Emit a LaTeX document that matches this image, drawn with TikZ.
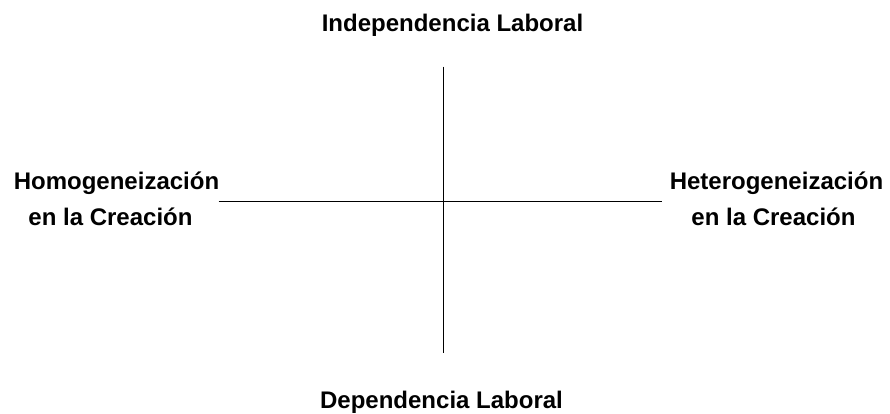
\documentclass[tikz,border=0pt]{standalone}
\usepackage{fontspec}
\setmainfont{Liberation Sans}
\begin{document}
\begin{tikzpicture}[x=1pt,y=-1pt,
  lbl/.style={font=\bfseries\fontsize{24}{36}\selectfont, anchor=base, inner sep=0pt, align=center},
  axis/.style={line width=1.3pt, black}]
\useasboundingbox (0,0) rectangle (890,413);
\node[lbl] (top) at (452.5,31) {Independencia Laboral};
\node[lbl] (bot) at (441.5,408.5) {Dependencia Laboral};
\node[lbl] (left1) at (116.5,189) {Homogeneización};
\node[lbl] (left2) at (110.5,225) {en la Creación};
\node[lbl] (right1) at (776.5,189) {Heterogeneización};
\node[lbl] (right2) at (773.5,225) {en la Creación};
\coordinate (vt) at (443.3,66.7);
\coordinate (vb) at (443.3,353.3);
\coordinate (hl) at (218.5,201.5);
\coordinate (hr) at (661.7,201.5);
\draw[axis] (vt) -- (vb);
\draw[axis] (hl) -- (hr);
\end{tikzpicture}
\end{document}
